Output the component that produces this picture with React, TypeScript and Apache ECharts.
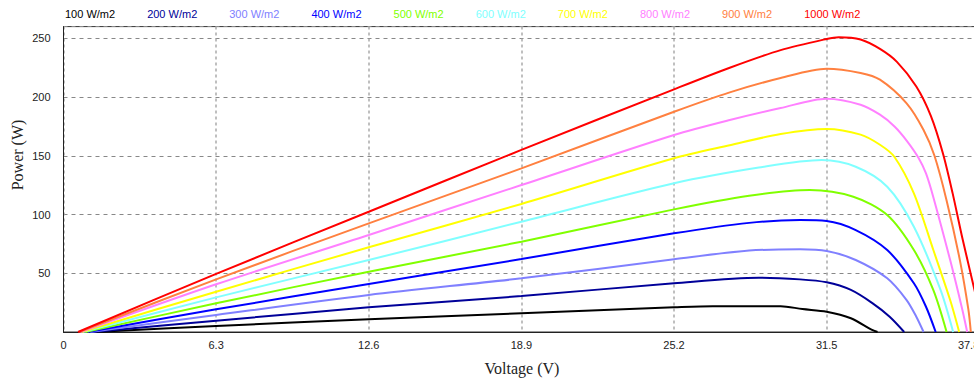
import React, { useEffect, useRef } from "react";
import * as echarts from "echarts";

// Series names and colours (legend order)
const seriesNames = [
  "100 W/m2", "200 W/m2", "300 W/m2", "400 W/m2", "500 W/m2",
  "600 W/m2", "700 W/m2", "800 W/m2", "900 W/m2", "1000 W/m2",
];
const seriesColors = [
  "#000000", "#000099", "#8080ff", "#0000ff", "#80ff00",
  "#80ffff", "#ffff00", "#ff80ff", "#ff8040", "#ff0000",
];

// Voltage (V) / Power (W) points
const v100 = [1.3, 6.3, 12.6, 18.9, 25.2, 26.8, 29.6, 30.5, 31.5, 32.5, 33.35, 33.6];
const p100 = [0, 5.1, 10.8, 15.9, 21, 22, 22, 19.5, 17.3, 11.7, 2, 0];

const v200 = [1.2, 6.3, 12.6, 18.9, 25.2, 28.7, 30.4, 31.5, 32.5, 33.4, 34.1, 34.7];
const p200 = [0, 9.6, 21, 30.6, 41.5, 46.2, 44.8, 42.3, 35.8, 24.4, 13, 0];

const v300 = [1.1, 6.3, 12.6, 18.9, 25.2, 28.3, 30.4, 31.5, 32.7, 34.0, 34.8, 35.2, 35.5];
const p300 = [0, 14.5, 31.5, 45.7, 61.9, 69.3, 70.4, 69, 61.3, 45.7, 27.2, 13, 0];

const v400 = [1.0, 6.3, 12.6, 18.9, 25.2, 28.3, 30.4, 31.5, 32.7, 34.0, 35.1, 35.6, 36.0];
const p400 = [0, 19.3, 40.9, 62.1, 84, 92.9, 95.3, 94.5, 86.8, 69.8, 41.5, 21.5, 0];

const v500 = [0.9, 6.3, 12.6, 18.9, 25.2, 28.3, 30.8, 32.6, 34.0, 35.1, 35.9, 36.45];
const p500 = [0, 24.4, 51.3, 76.9, 104.4, 116, 120.9, 115.2, 99.6, 69.8, 35.8, 0];

const v600 = [0.8, 6.3, 12.6, 18.9, 25.2, 28.7, 31.3, 32.7, 34.0, 35.1, 36.2, 36.72];
const p600 = [0, 29.5, 61.3, 93.9, 126.6, 140, 146.4, 140.7, 123.7, 89.6, 35.8, 0];

const v700 = [0.75, 6.3, 12.6, 18.9, 25.2, 27.5, 29.6, 31.5, 32.9, 33.7, 34.3, 35.1, 35.9, 36.6, 36.97];
const p700 = [0, 34.3, 72.1, 109, 147.9, 159, 168.5, 172.8, 168, 159.4, 149, 118, 70, 27, 0];

const v800 = [0.7, 6.3, 12.6, 18.9, 25.2, 27.5, 29.6, 31.5, 32.9, 33.7, 34.3, 34.8, 35.3, 35.6, 35.9, 36.6, 37.1, 37.3];
const p800 = [0, 40.6, 82.6, 125.1, 167.7, 180.5, 190.7, 198.6, 193.5, 185, 175, 163, 148, 135, 115, 61, 19, 0];

const v900 = [0.65, 6.3, 12.6, 18.9, 25.2, 27.5, 29.6, 31.5, 32.9, 33.7, 34.8, 35.5, 35.95, 36.45, 37.0, 37.35, 37.45];
const p900 = [0, 44.8, 92.5, 139.3, 187.5, 204, 216.2, 224.1, 220.5, 214.8, 194.7, 172, 150, 112, 61, 19, 0];

const v1000 = [0.6, 6.3, 12.6, 18.9, 25.2, 27.5, 29.6, 31.5, 32.0, 32.9, 33.7, 34.4, 35.2, 35.8, 36.3, 36.7, 37.1, 37.6, 38.0];
const p1000 = [0, 49.5, 102.4, 155, 206.6, 225, 240, 249.5, 251, 249, 241, 230, 209, 184, 152, 118, 80, 36, 0];

const voltages = [v100, v200, v300, v400, v500, v600, v700, v800, v900, v1000];
const powers = [p100, p200, p300, p400, p500, p600, p700, p800, p900, p1000];

// Axis settings
const xMin = 0;
const xMax = 37.8;
const xStep = 6.3;
const yMin = 0;
const yMax = 260;
const yStep = 50;

const sans = "'Liberation Sans', Arial, sans-serif";
const serif = "'Liberation Serif', 'Times New Roman', serif";

const CHART_W = 990;

export default function App() {
  const ref = useRef<HTMLDivElement>(null);

  useEffect(() => {
    if (!ref.current) return;
    const chart = echarts.init(ref.current, null, { renderer: "svg" });

    const series = seriesNames.map((name, i) => ({
      name,
      type: "line",
      data: voltages[i].map((v, k) => [v, powers[i][k]]),
      showSymbol: false,
      symbol: "none",
      smooth: 0.3,
      clip: true,
      lineStyle: { color: seriesColors[i], width: 2 },
      itemStyle: { color: seriesColors[i] },
      z: 3 + i,
    }));

    chart.setOption({
      animation: false,
      backgroundColor: "#ffffff",
      grid: {
        left: 63.5,
        right: CHART_W - 979.3,
        top: 26.6,
        bottom: 48,
        show: true,
        borderColor: "#333333",
        borderWidth: 1,
        backgroundColor: "transparent",
      },
      legend: {
        top: 3,
        left: 55,
        itemWidth: 0,
        itemHeight: 0,
        itemGap: 27,
        selectedMode: false,
        icon: "rect",
        data: seriesNames.map((n, i) => ({
          name: n,
          textStyle: { color: seriesColors[i] },
        })),
        textStyle: { fontSize: 11, fontFamily: sans },
      },
      xAxis: {
        type: "value",
        min: xMin,
        max: xMax,
        interval: xStep,
        axisLine: { show: true, lineStyle: { color: "#222222", width: 1 } },
        axisTick: { show: false },
        axisLabel: {
          color: "#222222",
          fontSize: 11,
          fontFamily: sans,
          margin: 7,
          alignMaxLabel: "right",
        },
        splitLine: {
          show: true,
          lineStyle: { color: "#aaaaaa", type: [3, 3], width: 1.5 },
        },
      },
      yAxis: {
        type: "value",
        min: yMin,
        max: yMax,
        interval: yStep,
        axisLine: { show: true, lineStyle: { color: "#222222", width: 1 } },
        axisTick: { show: false },
        axisLabel: {
          color: "#222222",
          fontSize: 11,
          fontFamily: sans,
          margin: 13,
          showMinLabel: false,
          showMaxLabel: false,
        },
        splitLine: {
          show: true,
          lineStyle: { color: "#888888", type: [4, 4], width: 1 },
        },
      },
      graphic: [
        {
          type: "text",
          x: 17,
          y: 155,
          rotation: Math.PI / 2,
          style: {
            text: "Power (W)",
            font: `16px ${serif}`,
            fill: "#222222",
            align: "center",
            verticalAlign: "middle",
          },
        },
        {
          type: "text",
          x: 522,
          y: 368,
          style: {
            text: "Voltage (V)",
            font: `16px ${serif}`,
            fill: "#222222",
            align: "center",
            verticalAlign: "middle",
          },
        },
      ],
      series,
    });

    return () => chart.dispose();
  }, []);

  return (
    <div
      style={{
        position: "fixed",
        left: 0,
        top: 0,
        width: 974,
        height: 380,
        overflow: "hidden",
      }}
    >
      <div ref={ref} style={{ width: CHART_W, height: 380 }} />
    </div>
  );
}
